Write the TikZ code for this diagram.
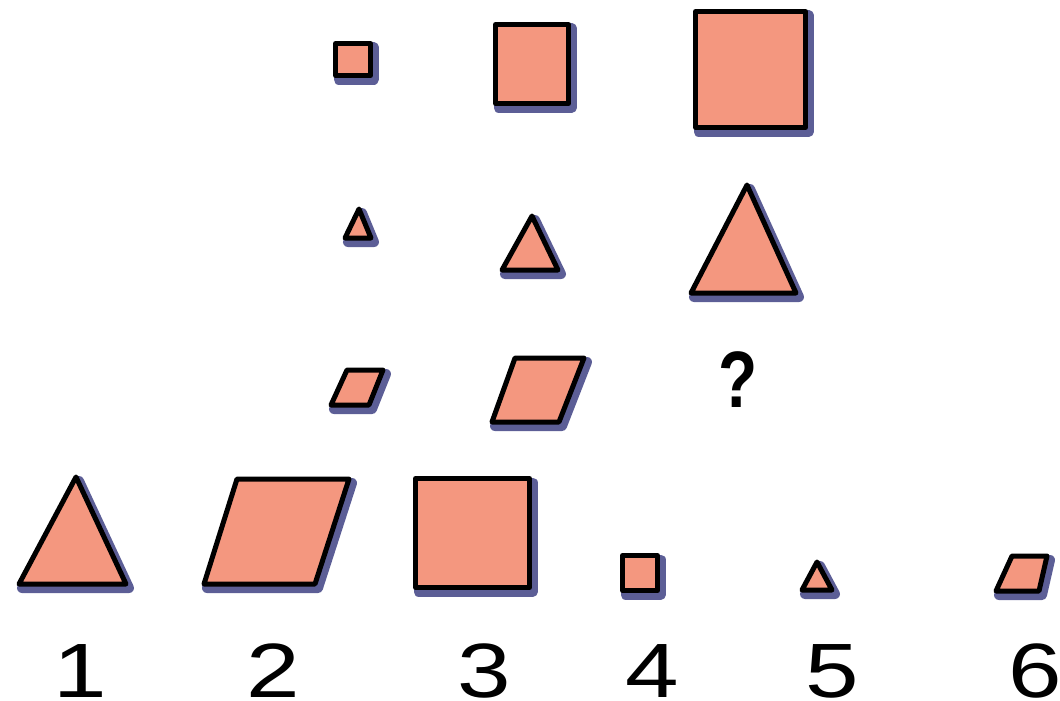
\documentclass[tikz,border=0pt]{standalone}
\usepackage{fontspec}
\setsansfont{Liberation Sans}
\usepackage{graphicx}
\usepackage{tikz}
\usetikzlibrary{positioning}

\definecolor{salmon}{HTML}{F4977F}
\definecolor{inkblue}{HTML}{5C5E96}

\begin{document}
\begin{tikzpicture}[
    x=1pt, y=-1pt,
    fig/.style={fill=salmon, draw=black, line width=5pt, line join=round,
                preaction={draw=inkblue, fill=inkblue, line width=10pt, line join=round,
                           transform canvas={shift={(3pt,-4pt)}}}},
    num/.style={anchor=base, inner sep=0pt, font=\sffamily\fontsize{77}{77}\selectfont},
    ask/.style={inner sep=0pt, font=\sffamily\bfseries\fontsize{80}{80}\selectfont},
]
\useasboundingbox (0,0) rectangle (1060,701);

% --- Row 1: squares ---
\draw[fig] (335.5,43.5) rectangle (370.5,75.5);
\draw[fig] (495.5,24.5) rectangle (568.5,103.5);
\draw[fig] (695.5,11.5) rectangle (805.5,127.5);

% --- Row 2: triangles ---
\draw[fig] (359,209) -- (371,238) -- (345,238) -- cycle;
\draw[fig] (532,216) -- (558,270) -- (502,270) -- cycle;
\draw[fig] (747,185) -- (796,293) -- (691,293) -- cycle;

% --- Row 3: parallelograms ---
\draw[fig] (347,370) -- (383,370) -- (369,405) -- (331,405) -- cycle;
\draw[fig] (515,358) -- (584,358) -- (559,422) -- (492,422) -- cycle;
\node[ask] (ask) at (738,380) {\scalebox{0.8}[1]{?}};

% --- Answers ---
\draw[fig] (76,477) -- (126,584) -- (19,584) -- cycle;
\draw[fig] (237,479) -- (349,479) -- (315,584) -- (204,584) -- cycle;
\draw[fig] (415.5,478.5) rectangle (529.5,587.5);
\draw[fig] (622.5,555.5) rectangle (657.5,590.5);
\draw[fig] (817,562) -- (832,590) -- (802,590) -- cycle;
\draw[fig] (1012,556) -- (1047,556) -- (1039,591) -- (996,591) -- cycle;

% --- Answer numbers ---
\node[num] (n1) at (80,697) {\scalebox{1.25}[1]{1}};
\node[num] (n2) at (273,697) {\scalebox{1.25}[1]{2}};
\node[num] (n3) at (484,697) {\scalebox{1.25}[1]{3}};
\node[num] (n4) at (652,697) {\scalebox{1.25}[1]{4}};
\node[num] (n5) at (832,697) {\scalebox{1.25}[1]{5}};
\node[num] (n6) at (1035,697) {\scalebox{1.25}[1]{6}};

\end{tikzpicture}
\end{document}
